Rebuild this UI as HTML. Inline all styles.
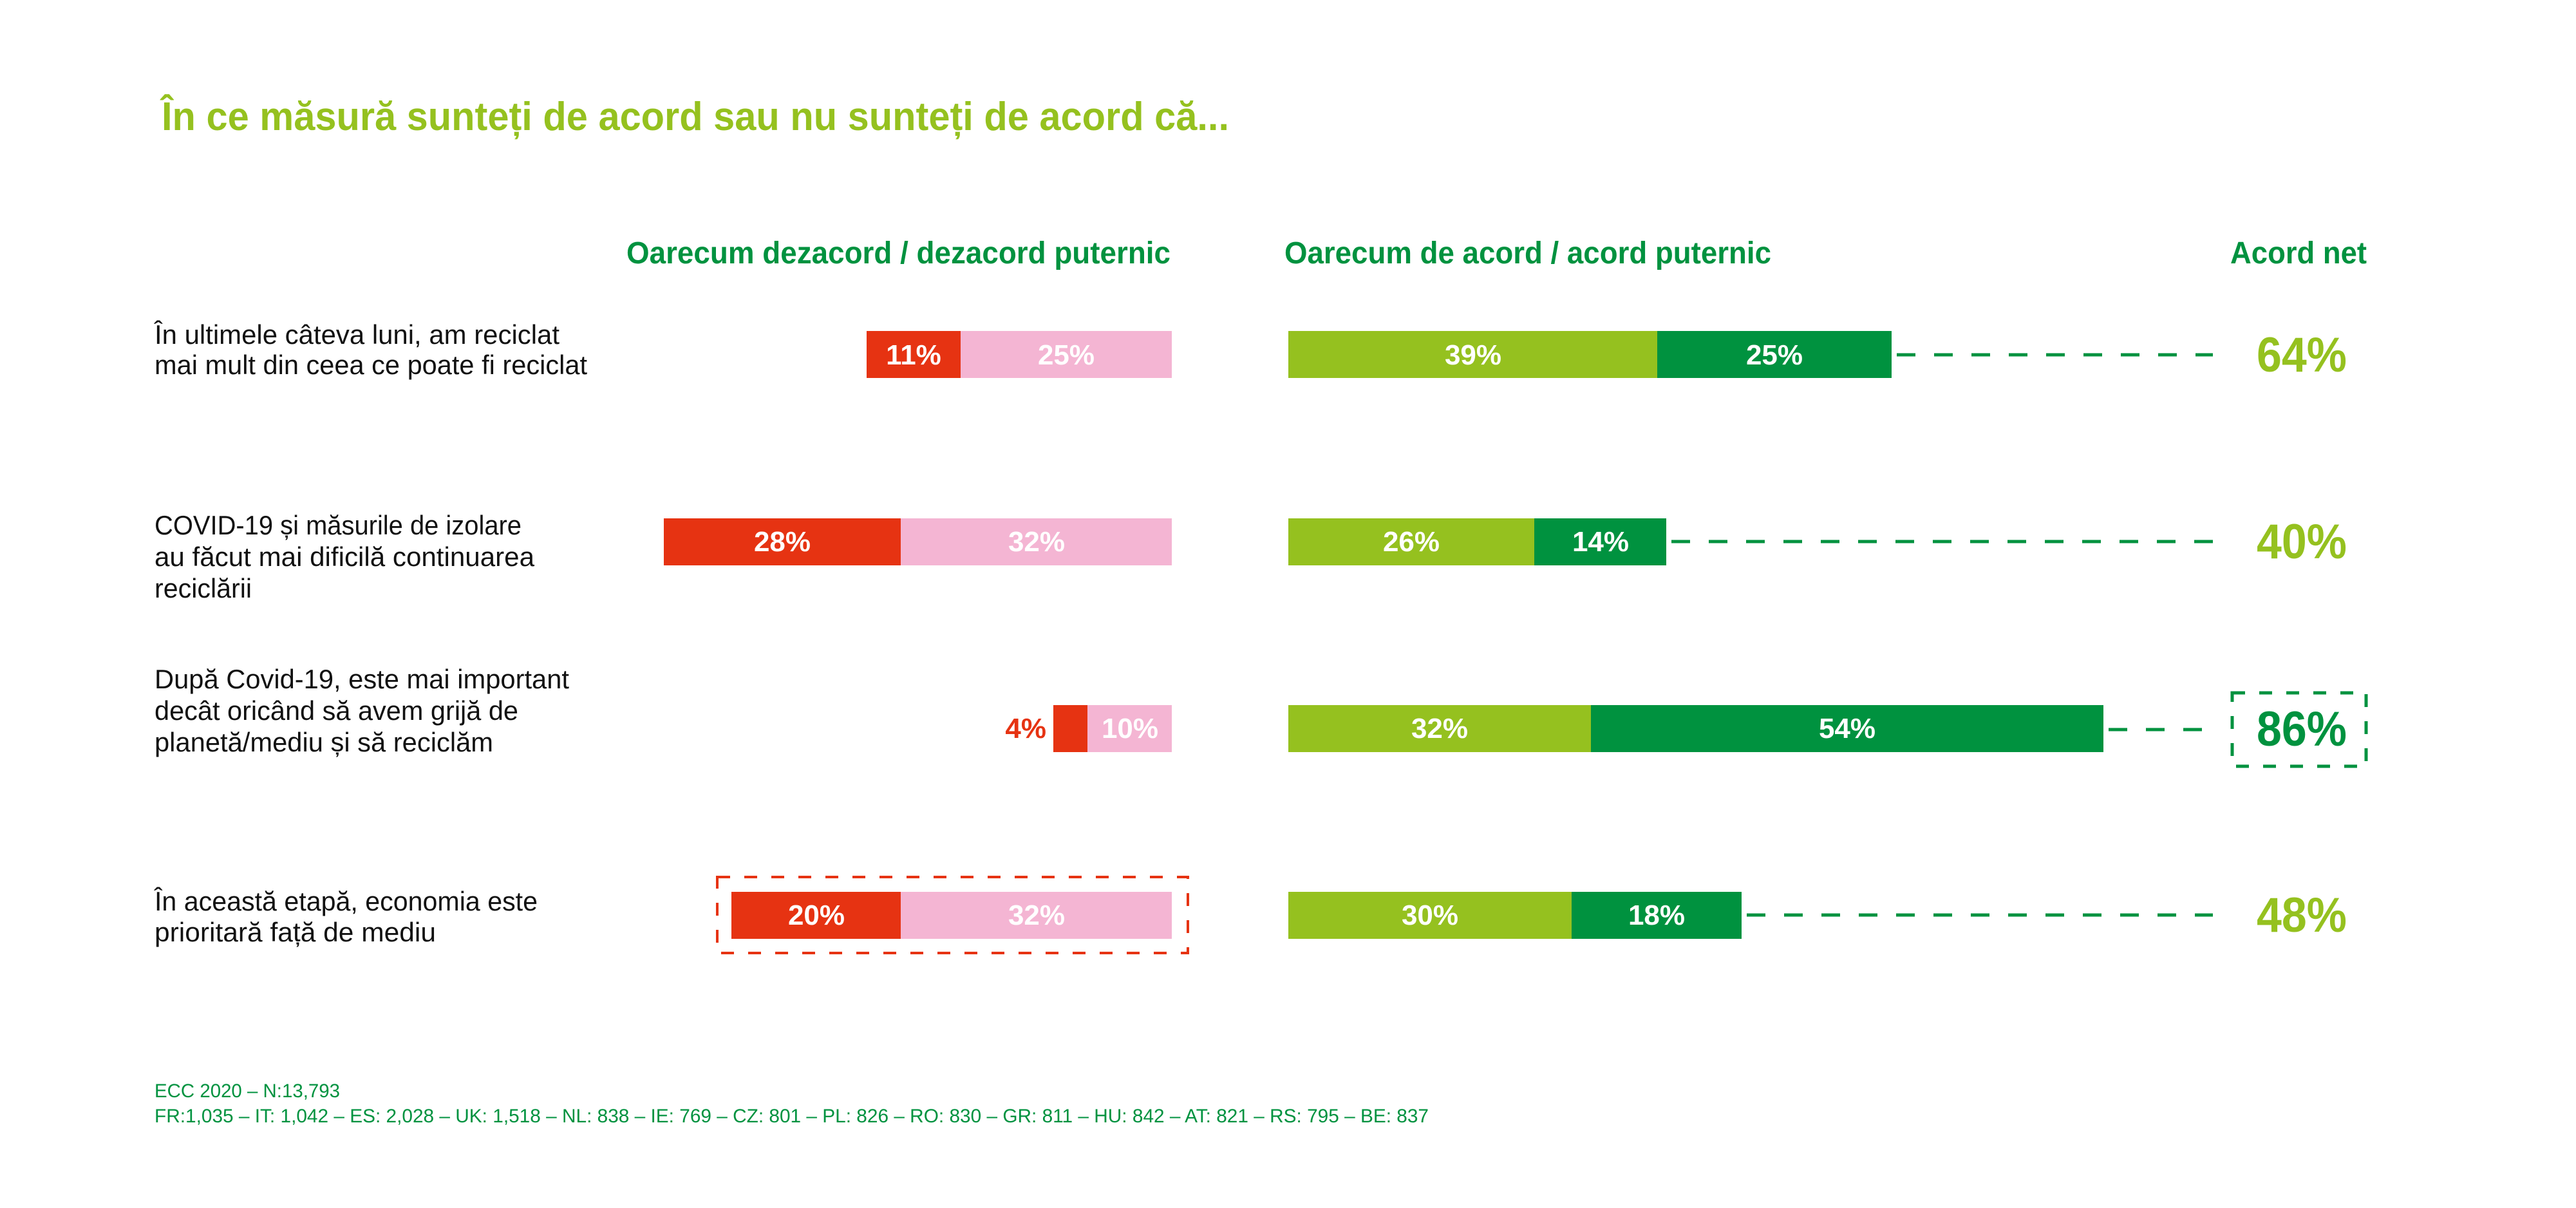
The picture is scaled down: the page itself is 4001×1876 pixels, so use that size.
<!DOCTYPE html>
<html><head><meta charset="utf-8"><style>html,body{margin:0;padding:0;background:#fff}svg{display:block}</style></head><body>
<svg width="4001" height="1876" viewBox="0 0 4001 1876" xmlns="http://www.w3.org/2000/svg" font-family="'Liberation Sans', sans-serif">
<rect width="4001" height="1876" fill="#fff"/>
<text x="251" y="202" font-size="62" font-weight="bold" fill="#95c11f" textLength="1658" lengthAdjust="spacingAndGlyphs">În ce măsură sunteți de acord sau nu sunteți de acord că...</text>
<g font-size="48" font-weight="bold" fill="#00923f">
<text x="973" y="409" textLength="845" lengthAdjust="spacingAndGlyphs">Oarecum dezacord / dezacord puternic</text>
<text x="1995" y="409" textLength="756" lengthAdjust="spacingAndGlyphs">Oarecum de acord / acord puternic</text>
<text x="3464" y="409" textLength="212" lengthAdjust="spacingAndGlyphs">Acord net</text>
</g>
<g font-size="42" fill="#111">
<text x="240" y="534" textLength="629" lengthAdjust="spacingAndGlyphs">În ultimele câteva luni, am reciclat</text>
<text x="240" y="581" textLength="672" lengthAdjust="spacingAndGlyphs">mai mult din ceea ce poate fi reciclat</text>
<text x="240" y="830" textLength="570" lengthAdjust="spacingAndGlyphs">COVID-19 și măsurile de izolare</text>
<text x="240" y="879" textLength="590" lengthAdjust="spacingAndGlyphs">au făcut mai dificilă continuarea</text>
<text x="240" y="928" textLength="151" lengthAdjust="spacingAndGlyphs">reciclării</text>
<text x="240" y="1069" textLength="644" lengthAdjust="spacingAndGlyphs">După Covid-19, este mai important</text>
<text x="240" y="1118" textLength="565" lengthAdjust="spacingAndGlyphs">decât oricând să avem grijă de</text>
<text x="240" y="1167" textLength="526" lengthAdjust="spacingAndGlyphs">planetă/mediu și să reciclăm</text>
<text x="240" y="1414" textLength="595" lengthAdjust="spacingAndGlyphs">În această etapă, economia este</text>
<text x="240" y="1462" textLength="437" lengthAdjust="spacingAndGlyphs">prioritară față de mediu</text>
</g>
<rect x="1346" y="514" width="146" height="73" fill="#e63312"/><rect x="1492" y="514" width="328" height="73" fill="#f4b5d3"/>
<rect x="1031" y="805" width="368" height="73" fill="#e63312"/><rect x="1399" y="805" width="421" height="73" fill="#f4b5d3"/>
<rect x="1636" y="1095" width="53" height="73" fill="#e63312"/><rect x="1689" y="1095" width="131" height="73" fill="#f4b5d3"/>
<rect x="1136" y="1385" width="263" height="73" fill="#e63312"/><rect x="1399" y="1385" width="421" height="73" fill="#f4b5d3"/>
<rect x="1114" y="1362" width="731" height="118" fill="none" stroke="#e63312" stroke-width="4" stroke-dasharray="20 22"/>
<rect x="2001" y="514" width="573" height="73" fill="#95c11f"/><rect x="2574" y="514" width="364" height="73" fill="#00923f"/>
<rect x="2001" y="805" width="382" height="73" fill="#95c11f"/><rect x="2383" y="805" width="205" height="73" fill="#00923f"/>
<rect x="2001" y="1095" width="470" height="73" fill="#95c11f"/><rect x="2471" y="1095" width="796" height="73" fill="#00923f"/>
<rect x="2001" y="1385" width="440" height="73" fill="#95c11f"/><rect x="2441" y="1385" width="264" height="73" fill="#00923f"/>
<g stroke="#00923f" stroke-width="5" stroke-dasharray="29 29">
<line x1="2946" y1="551" x2="3437" y2="551"/>
<line x1="2596" y1="841" x2="3437" y2="841"/>
<line x1="3275" y1="1133" x2="3437" y2="1133"/>
<line x1="2713" y1="1421" x2="3437" y2="1421"/>
</g>
<rect x="3467" y="1076" width="208" height="114" fill="none" stroke="#00923f" stroke-width="5" stroke-dasharray="20 22"/>
<g font-size="44" font-weight="bold" fill="#fff" text-anchor="middle">
<text x="1419" y="566">11%</text><text x="1656" y="566">25%</text>
<text x="1215" y="856">28%</text><text x="1610" y="856">32%</text>
<text x="1755" y="1146">10%</text>
<text x="1268" y="1436">20%</text><text x="1610" y="1436">32%</text>
<text x="2288" y="566">39%</text><text x="2756" y="566">25%</text>
<text x="2192" y="856">26%</text><text x="2486" y="856">14%</text>
<text x="2236" y="1146">32%</text><text x="2869" y="1146">54%</text>
<text x="2221" y="1436">30%</text><text x="2573" y="1436">18%</text>
</g>
<text x="1625" y="1146" font-size="44" font-weight="bold" fill="#e63312" text-anchor="end">4%</text>
<g font-size="76" font-weight="bold">
<text x="3505" y="577" fill="#95c11f" textLength="140" lengthAdjust="spacingAndGlyphs">64%</text>
<text x="3505" y="867" fill="#95c11f" textLength="140" lengthAdjust="spacingAndGlyphs">40%</text>
<text x="3505" y="1158" fill="#00923f" textLength="140" lengthAdjust="spacingAndGlyphs">86%</text>
<text x="3505" y="1447" fill="#95c11f" textLength="140" lengthAdjust="spacingAndGlyphs">48%</text>
</g>
<g font-size="30" fill="#00923f">
<text x="240" y="1704" textLength="288" lengthAdjust="spacingAndGlyphs">ECC 2020 – N:13,793</text>
<text x="240" y="1743" textLength="1979" lengthAdjust="spacingAndGlyphs">FR:1,035 – IT: 1,042 – ES: 2,028 – UK: 1,518 – NL: 838 – IE: 769 – CZ: 801 – PL: 826 – RO: 830 – GR: 811 – HU: 842 – AT: 821 – RS: 795 – BE: 837</text>
</g>
</svg>
</body></html>
